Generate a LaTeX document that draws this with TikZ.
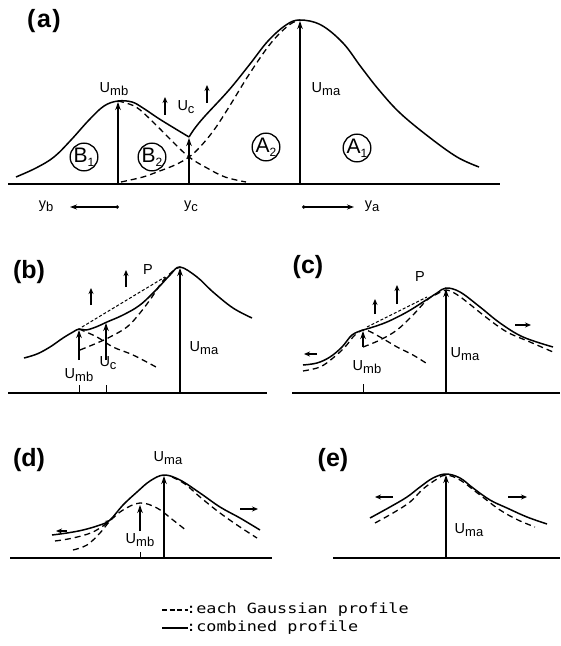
\documentclass[tikz,border=0pt]{standalone}
\usepackage{fontspec}
\setmainfont{Liberation Sans}
\newfontfamily\legendfont[FakeStretch=1.2]{DejaVu Sans Mono}
\usetikzlibrary{arrows.meta}

\newcommand{\lsub}[2]{#1\raisebox{-3.5bp}{\fontsize{13bp}{13bp}\selectfont #2}}
\newcommand{\csub}[2]{#1\raisebox{-4bp}{\fontsize{12bp}{12bp}\selectfont #2}}

\tikzset{
  profile/.style={line width=1.5bp},
  gauss/.style={line width=1.3bp, dash pattern=on 6bp off 4bp},
  tangent/.style={line width=1bp, dash pattern=on 3bp off 2bp},
  axisline/.style={line width=2.5bp},
  height/.style={line width=1.1bp, -{Stealth[length=8bp,width=5.5bp]}},
  rise/.style={line width=1.3bp, -{Stealth[length=6bp,width=5bp]}},
  spread/.style={line width=1.1bp, -{Stealth[length=6bp,width=5bp]}},
  tickmark/.style={line width=1bp},
  panel/.style={font=\fontsize{25bp}{27bp}\selectfont\bfseries},
  lbl/.style={font=\fontsize{14.5bp}{16bp}\selectfont, inner sep=0},
  region/.style={draw, circle, line width=1.3bp, minimum size=25bp, inner sep=0,
    font=\fontsize{21bp}{21bp}\selectfont},
}

\begin{document}
\begin{tikzpicture}[x=1bp, y=-1bp]
\useasboundingbox (0,0) rectangle (561,646);

%%% (a)
\node[panel] (lbla) at (44,21) {(\hspace{1.5bp}a\hspace{1.5bp})};
\draw[axisline] (8,184) --(500,184);

%% 曲線
\draw[profile] plot[smooth, tension=0.6] coordinates {(16,177) (36,168) (54,157) (71,140)
  (89,120) (104,106) (118,101) (132,102) (143,108) (161,120) (189,137)};
\draw[profile] plot[smooth, tension=0.6] coordinates {(189,137) (195,128) (205,116) (229,90)
  (250,64) (268,41) (286,25) (300,20) (321,25) (343,43) (361,67) (379,90) (400,113)
  (429,137) (457,157) (479,167)};
\draw[gauss] plot[smooth, tension=0.6] coordinates {(121,182) (143,177) (157,172) (175,165)
  (189,157) (200,147) (214,130) (229,107) (250,73) (271,43) (289,25) (300,20)};
\draw[gauss] plot[smooth, tension=0.6] coordinates {(118,101) (136,107) (154,123) (171,140)
  (189,157) (207,168) (225,177) (246,182)};

%% 矢印
\draw[height] (300,184) --(300,21);
\draw[height] (118,184) --(118,102);
\draw[height] (189,184) --(189,138);
\draw[rise] (165,115) --(165,97);
\draw[rise] (207,103) --(207,85);

\node[lbl] (umba) at (114,89) {\lsub{U}{mb}};
\node[lbl] (uca) at (186,107) {\lsub{U}{c}};
\node[lbl] (umaa) at (326,89) {\lsub{U}{ma}};

%% 領域
\node[region] (bone) at (84,157) {\csub{B}{1}};
\node[region] (btwo) at (152,157) {\csub{B}{2}};
\node[region] (atwo) at (266,147) {\csub{A}{2}};
\node[region] (aone) at (357,148) {\csub{A}{1}};

%% 位置
\node[lbl] (yb) at (46,206) {\lsub{y}{b}};
\node[lbl] (yc) at (191,206) {\lsub{y}{c}};
\node[lbl] (ya) at (372,206) {\lsub{y}{a}};
\draw[spread, {Circle[length=3.5bp]}-{Stealth[length=7bp,width=5bp]}] (119,207) --(70,207);
\draw[spread, {Circle[length=3.5bp]}-{Stealth[length=7bp,width=5bp]}] (302,207) --(354,207);

%%% (b)
\node[panel] (lblb) at (29,272) {(b)};
\draw[axisline] (8,393) --(267,393);
\draw[profile] plot[smooth, tension=0.6] coordinates {(24,358) (37,354) (50,347) (63,338)
  (73,332) (79,329) (86,330) (96,327) (107,322) (123,315) (140,305) (157,289) (170,275)
  (180,267) (197,277) (213,292) (233,308) (252,318)};
\draw[gauss] plot[smooth, tension=0.6] coordinates {(80,350) (97,343) (110,337) (127,327)
  (140,313) (152,297) (162,282) (173,271) (180,267)};
\draw[gauss] plot[smooth, tension=0.6] coordinates {(79,329) (97,337) (113,347) (133,355)
  (156,367)};
\draw[tangent] (82,327) --(165,277);

\draw[height] (180,393) --(180,268);
\draw[height] (79,360) --(79,330);
\draw[height] (106,360) --(106,323);
\draw[tickmark] (79,385) --(79,393);
\draw[tickmark] (106,385) --(106,393);
\draw[rise] (91,305) --(91,288);
\draw[rise] (126,287) --(126,270);

\node[lbl] (umbb) at (79,375) {\lsub{U}{mb}};
\node[lbl] (ucb) at (108,363) {\lsub{U}{c}};
\node[lbl] (umab) at (204,348) {\lsub{U}{ma}};
\node[lbl] (pb) at (148,270) {P};

%%% (c)
\node[panel] (lblc) at (308,267) {(c)};
\draw[axisline] (292,393) --(560,393);
\draw[profile] plot[smooth, tension=0.6] coordinates {(303,365) (317,363) (330,357) (342,347)
  (352,335) (363,330) (370,328) (387,322) (407,312) (423,302) (437,293) (446,288)
  (460,292) (480,307) (500,323) (523,337) (553,347)};
\draw[gauss] plot[smooth, tension=0.6] coordinates {(303,371) (320,367) (333,358) (345,347)
  (355,335) (365,330) (380,337) (397,347) (413,355) (429,365)};
\draw[gauss] plot[smooth, tension=0.6] coordinates {(363,347) (380,340) (397,330) (413,315)
  (427,300) (437,294) (446,290) (456,294) (467,302) (487,318) (507,332) (530,342) (553,352)};
\draw[tangent] (367,327) --(427,297);

\draw[height] (446,393) --(446,289);
\draw[height] (363,347) --(363,331);
\draw[tickmark] (363,384) --(363,393);
\draw[rise] (375,314) --(375,299);
\draw[rise] (397,304) --(397,285);
\draw[spread] (317,354) --(304,354);
\draw[spread] (515,325) --(531,325);

\node[lbl] (umbc) at (367,367) {\lsub{U}{mb}};
\node[lbl] (umac) at (465,354) {\lsub{U}{ma}};
\node[lbl] (pc) at (420,277) {P};

%%% (d)
\node[panel] (lbld) at (29,460) {(d)};
\draw[axisline] (10,558) --(272,558);
\draw[profile] plot[smooth, tension=0.6] coordinates {(52,535) (67,533) (83,530) (100,525)
  (110,520) (123,505) (137,492) (150,481) (164,475) (180,480) (200,493) (220,507)
  (240,518) (260,530)};
\draw[gauss] plot[smooth, tension=0.6] coordinates {(55,541) (73,538) (93,532) (110,521)};
\draw[gauss] plot[smooth, tension=0.6] coordinates {(172,477) (185,484) (200,497) (220,513)
  (240,527) (257,538)};
\draw[gauss] plot[smooth, tension=0.6] coordinates {(73,550) (87,545) (100,533) (110,521)
  (123,510) (140,503) (157,508) (173,520) (187,531)};
\draw[-{Stealth[length=5bp,width=4bp]}, line width=0.8bp] (104,524) --(110,520);

\draw[height] (164,558) --(164,476);
\draw[height] (140,531) --(140,505);
\draw[tickmark] (140,552) --(140,558);
\draw[spread] (67,531) --(56,531);
\draw[spread] (240,509) --(258,509);

\node[lbl] (umbd) at (140,540) {\lsub{U}{mb}};
\node[lbl] (umad) at (168,458) {\lsub{U}{ma}};

%%% (e)
\node[panel] (lble) at (333,460) {(e)};
\draw[axisline] (333,558) --(560,558);
\draw[profile] plot[smooth, tension=0.6] coordinates {(370,518) (390,507) (407,497) (420,487)
  (433,478) (446,474) (460,478) (473,488) (490,500) (507,508) (527,517) (547,524)};
\draw[gauss] plot[smooth, tension=0.6] coordinates {(375,523) (393,513) (410,502) (423,489)
  (437,479) (446,475) (460,480) (480,495) (500,510) (518,520) (535,527)};

\draw[height] (446,558) --(446,475);
\draw[spread] (393,497) --(375,497);
\draw[spread] (508,497) --(527,497);

\node[lbl] (umae) at (469,530) {\lsub{U}{ma}};

%%% 凡例
\draw[gauss, dash pattern=on 5bp off 2.5bp] (162,610) --(188,610);
\draw[profile] (162,628) --(188,628);
\node[anchor=west, inner sep=0, font=\legendfont\fontsize{14bp}{16bp}\selectfont] (legg) at (186,610) {:each Gaussian profile};
\node[anchor=west, inner sep=0, font=\legendfont\fontsize{14bp}{16bp}\selectfont] (legc) at (186,628) {:combined profile};

\end{tikzpicture}
\end{document}
